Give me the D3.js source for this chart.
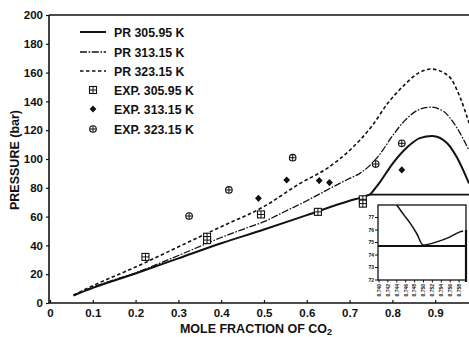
<!DOCTYPE html>
<html><head><meta charset="utf-8">
<script src="https://cdn.jsdelivr.net/npm/d3@7"></script>
<style>
html,body{margin:0;padding:0;background:#fff;}
svg{display:block;font-family:"Liberation Sans",Arial,Helvetica,sans-serif;font-weight:bold;}
</style></head>
<body>
<svg id="c" width="469" height="337"></svg>
<script>
// ---- data ----
const xTickValues = [0,0.1,0.2,0.3,0.4,0.5,0.6,0.7,0.8,0.9];
const xTickLabels = ["0","0.1","0.2","0.3","0.4","0.5","0.6","0.7","0.8","0.9"];
const yTickValues = [0,20,40,60,80,100,120,140,160,180,200];

const pr305LowX = [0.055,0.1,0.2,0.3,0.4,0.5,0.6,0.7,0.73,0.748];
const pr305LowP = [5.2,10.5,20.5,31,41.5,51,61,71,73.5,75.3];
const pr305UpX  = [0.748,0.771,0.801,0.834,0.864,0.893,0.928,0.951,0.979];
const pr305UpP  = [75.3,84,97,108,114.5,116,111,101,83];

const pr313X = [0.055,0.1,0.2,0.3,0.4,0.444,0.5,0.545,0.6,0.66,0.7,0.724,0.77,0.80,0.83,0.86,0.89,0.92,0.95,0.979];
const pr313P = [5.4,11,21,33,45.5,50.5,56.5,63,71,80.5,86.5,90,103,116,127,134,136,133,122,106];

const pr323X = [0.055,0.1,0.2,0.3,0.4,0.5,0.584,0.65,0.7,0.75,0.79,0.83,0.86,0.89,0.93,0.958,0.979];
const pr323P = [5.5,12,25,39,53,67,83,94,106,122,139,152,159.5,162.5,158,143,125];

const exp305X = [0.223,0.367,0.367,0.493,0.626,0.731,0.731];
const exp305P = [32,46,43.7,61.5,63.3,72,69];
const exp313X = [0.487,0.553,0.629,0.653,0.822];
const exp313P = [72.7,85.4,85,83.6,92.4];
const exp323X = [0.325,0.418,0.567,0.761,0.822];
const exp323P = [60.4,78.5,100.9,96.5,110.9];

const refLineX = [0.748,0.979];
const refLineP = [75.3,75.3];

const legendLabels = ["PR 305.95 K","PR 313.15 K","PR 323.15 K","EXP. 305.95 K","EXP. 313.15 K","EXP. 323.15 K"];

// inset
const insetXTicks = [0.740,0.742,0.744,0.746,0.748,0.750,0.752,0.754,0.756,0.758];
const insetYTicks = [72,73,74,75,76,77];
const insetCurveX = [0.7440,0.7455,0.7470,0.7485,0.7499,0.7530,0.7560,0.7582,0.7589];
const insetCurveP = [78,77.25,76.55,75.7,74.8,75.05,75.45,75.85,75.92];
const insetLineP = 74.72;

// ---- drawing ----
const svg = d3.select("#c");
const x = d3.scaleLinear().domain([0,0.979]).range([50,469]);
const y = d3.scaleLinear().domain([0,200]).range([303,15]);
const ink = "#111";

svg.append("defs").append("clipPath").attr("id","plot")
  .append("rect").attr("x",50).attr("y",15).attr("width",419).attr("height",288);

// axes
const xAxis = svg.append("g").attr("transform","translate(0,303)")
  .call(d3.axisBottom(x).tickValues(xTickValues).tickFormat((d,i)=>xTickLabels[i]).tickSizeInner(-3).tickSizeOuter(0).tickPadding(6));
const yAxis = svg.append("g").attr("transform","translate(49,0)")
  .call(d3.axisLeft(y).tickValues(yTickValues).tickSizeInner(3).tickSizeOuter(0).tickPadding(3));
[xAxis,yAxis].forEach(a=>{
  a.selectAll("path").attr("stroke",ink).attr("stroke-width",1.6);
  a.selectAll("line").attr("stroke",ink).attr("stroke-width",1.2);
  a.selectAll("text").attr("fill",ink).attr("font-size",11.5).attr("font-weight","bold")
    .attr("font-family","'Liberation Sans',Arial,sans-serif");
});
xAxis.select(".domain").attr("d","M49,0H469");
yAxis.select(".domain").attr("d","M0,15V303");

// top frame line
svg.append("line").attr("x1",x(0)-1).attr("x2",469).attr("y1",y(200)).attr("y2",y(200))
  .attr("stroke",ink).attr("stroke-width",1.6);

// axis titles
svg.append("text").attr("transform","translate(19,160) rotate(-90)").attr("text-anchor","middle")
  .attr("font-size",12.5).attr("fill",ink).text("PRESSURE (bar)");
const xt = svg.append("text").attr("x",256).attr("y",333).attr("text-anchor","middle")
  .attr("font-size",12.5).attr("fill",ink);
xt.append("tspan").text("MOLE FRACTION OF CO");
xt.append("tspan").attr("font-size",9).attr("dy",2).text("2");

// curves
const line = d3.line().x(d=>x(d[0])).y(d=>y(d[1])).curve(d3.curveMonotoneX);
const zip = (a,b)=>a.map((v,i)=>[v,b[i]]);
const gPlot = svg.append("g").attr("clip-path","url(#plot)");
const styles = [
  {w:2.0, dash:null},
  {w:1.3, dash:"7,1.6,1.6,1.6"},
  {w:1.6, dash:"3.5,2.5"}
];
gPlot.append("path").attr("d",line(zip(pr305LowX,pr305LowP))).attr("fill","none").attr("stroke",ink).attr("stroke-width",styles[0].w);
gPlot.append("path").attr("d",line(zip(pr305UpX,pr305UpP))).attr("fill","none").attr("stroke",ink).attr("stroke-width",styles[0].w);
gPlot.append("path").attr("d",line(zip(pr313X,pr313P))).attr("fill","none").attr("stroke",ink).attr("stroke-width",styles[1].w).attr("stroke-dasharray",styles[1].dash);
gPlot.append("path").attr("d",line(zip(pr323X,pr323P))).attr("fill","none").attr("stroke",ink).attr("stroke-width",styles[2].w).attr("stroke-dasharray",styles[2].dash);
gPlot.append("path").attr("d",d3.line().x(d=>x(d[0])).y(d=>y(d[1]))(zip(refLineX,refLineP)))
  .attr("fill","none").attr("stroke",ink).attr("stroke-width",1.8);

// markers
function sqMark(g,cx,cy){
  g.append("rect").attr("x",cx-3.5).attr("y",cy-3.5).attr("width",7).attr("height",7).attr("fill","#fff").attr("stroke",ink).attr("stroke-width",1.1);
  g.append("path").attr("d",`M${cx-3.5},${cy}H${cx+3.5}M${cx},${cy-3.5}V${cy+3.5}`).attr("stroke",ink).attr("stroke-width",1);
}
function diaMark(g,cx,cy){
  g.append("path").attr("d",`M${cx},${cy-3.6}L${cx+3.4},${cy}L${cx},${cy+3.6}L${cx-3.4},${cy}Z`).attr("fill",ink);
}
function circMark(g,cx,cy){
  g.append("circle").attr("cx",cx).attr("cy",cy).attr("r",3.3).attr("fill","#fff").attr("stroke",ink).attr("stroke-width",1.1);
  g.append("path").attr("d",`M${cx-3.3},${cy}H${cx+3.3}M${cx},${cy-3.3}V${cy+3.3}`).attr("stroke",ink).attr("stroke-width",1);
}
const gm = svg.append("g");
exp305X.forEach((v,i)=>sqMark(gm,x(v),y(exp305P[i])));
exp313X.forEach((v,i)=>diaMark(gm,x(v),y(exp313P[i])));
exp323X.forEach((v,i)=>circMark(gm,x(v),y(exp323P[i])));

// legend
const lg = svg.append("g");
const rowsY = [32,52,71,90,109,129];
legendLabels.forEach((t,i)=>{
  lg.append("text").attr("x",114).attr("y",rowsY[i]+4.5).attr("font-size",12.3).attr("fill",ink).text(t);
});
[0,1,2].forEach(i=>{
  const l = lg.append("line").attr("x1",80).attr("x2",106).attr("y1",rowsY[i]).attr("y2",rowsY[i])
    .attr("stroke",ink).attr("stroke-width",styles[i].w);
  if(styles[i].dash) l.attr("stroke-dasharray",styles[i].dash);
});
sqMark(lg,93,rowsY[3]); diaMark(lg,93,rowsY[4]); circMark(lg,93,rowsY[5]);

// inset
const ix = d3.scaleLinear().domain([0.740,0.760]).range([379,468]);
const iy = d3.scaleLinear().domain([72,78]).range([280,205]);
const gi = svg.append("g");
gi.append("rect").attr("x",378).attr("y",iy(78)).attr("width",88).attr("height",iy(72)-iy(78))
  .attr("fill","#fff").attr("stroke",ink).attr("stroke-width",1.3);
gi.append("line").attr("x1",466).attr("x2",466).attr("y1",iy(76)).attr("y2",iy(72)+2).attr("stroke",ink).attr("stroke-width",2.2);
gi.append("line").attr("x1",378).attr("x2",466).attr("y1",iy(insetLineP)).attr("y2",iy(insetLineP)).attr("stroke",ink).attr("stroke-width",2);
gi.append("path").attr("d",d3.line().x(d=>ix(d[0])).y(d=>iy(d[1])).curve(d3.curveMonotoneX)(zip(insetCurveX,insetCurveP)))
  .attr("fill","none").attr("stroke",ink).attr("stroke-width",1.5);
insetYTicks.forEach(v=>{
  gi.append("line").attr("x1",375).attr("x2",378).attr("y1",iy(v)).attr("y2",iy(v)).attr("stroke",ink).attr("stroke-width",1);
  gi.append("text").attr("x",374).attr("y",iy(v)+1.8).attr("text-anchor","end").attr("font-size",5).attr("fill",ink).text(v);
});
insetXTicks.forEach(v=>{
  gi.append("line").attr("x1",ix(v)).attr("x2",ix(v)).attr("y1",iy(72)).attr("y2",iy(72)+2.5).attr("stroke",ink).attr("stroke-width",1);
  gi.append("text").attr("transform",`translate(${ix(v)+1.8},${iy(72)+4}) rotate(-90)`).attr("text-anchor","end")
    .attr("font-size",5).attr("fill",ink).text(v.toFixed(3));
});
</script>
</body></html>
